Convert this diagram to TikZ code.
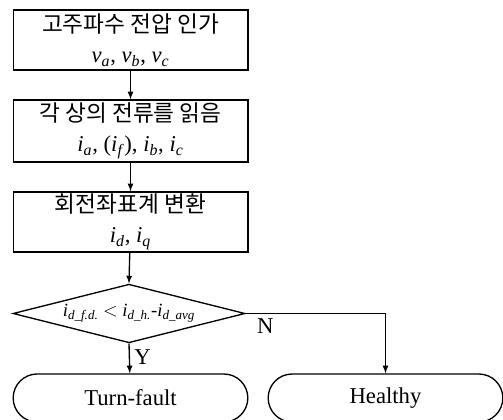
\documentclass[tikz,border=0pt]{standalone}
\usepackage{fontspec}
\setmainfont{Liberation Serif}
\newfontfamily\kr{Noto Sans CJK KR}
\usetikzlibrary{shapes.geometric,shapes.misc}
\newcommand{\vr}[2]{\textit{#1}\textsubscript{\textit{#2}}}
\begin{document}
\begin{tikzpicture}[x=0.75pt,y=-0.75pt,line width=1pt,
		procbox/.style={draw, rectangle, minimum width=176pt, minimum height=45pt, align=center, inner sep=0pt, font=\fontsize{17}{22.5}\selectfont},
		decbox/.style={draw, diamond, minimum width=174pt, minimum height=44pt, aspect=4, inner sep=0pt, font=\fontsize{14}{15}\selectfont},
		termbox/.style={draw, rounded rectangle, minimum width=176pt, minimum height=36pt, inner sep=0pt, font=\fontsize{17}{20}\selectfont}]
		\useasboundingbox (0,0) rectangle (503,420);
		\node[procbox] (apply) at (130.5,40) {{\kr 고주파수 전압 인가}\\ \vr{v}{a}, \vr{v}{b}, \vr{v}{c}};
		\node[procbox, minimum height=46.5pt] (read) at (130.5,131) {{\kr 각 상의 전류를 읽음}\\ \vr{i}{a}, (\vr{i}{f}), \vr{i}{b}, \vr{i}{c}};
		\node[procbox] (trans) at (130.5,222) {{\kr 회전좌표계 변환}\\ \vr{i}{d}, \vr{i}{q}};
		\node[decbox] (check) at (129,313.5) {\vr{i}{d\_f.d.} $<$ \vr{i}{d\_h.}-\vr{i}{d\_avg}};
		\node[termbox] (fault) at (130.5,398) {Turn-fault};
		\node[termbox] (healthy) at (385.5,398) {Healthy};
		\draw [-latex] (apply)--(read);
		\draw [-latex] (read)--(trans);
		\draw [-latex] (trans)--(check.north);
		\draw [-latex] (check.south)--(fault) node[pos=0.45, right, font=\fontsize{17}{20}\selectfont] {Y};
		\draw [-latex] (check.east)-|(healthy.north) node[pos=0.07, below, font=\fontsize{17}{20}\selectfont] {N};
	\end{tikzpicture}
\end{document}
